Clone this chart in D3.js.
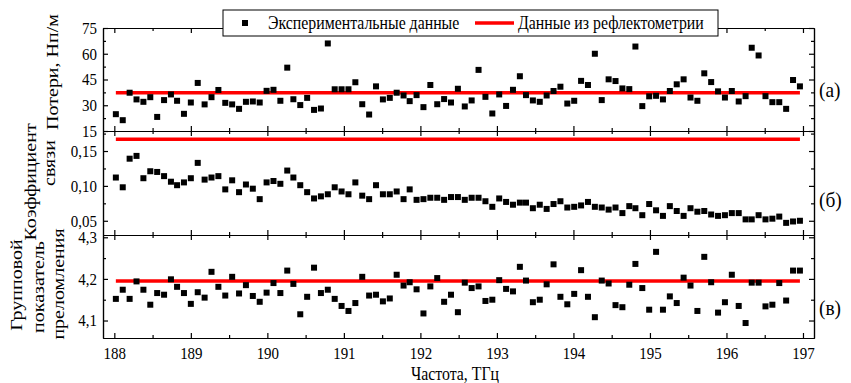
<!DOCTYPE html>
<html>
<head>
<meta charset="utf-8">
<script src="https://cdn.jsdelivr.net/npm/d3@7"></script>
<style>
  body { margin: 0; background: #fff; }
  text { font-family: "Liberation Serif", "Times New Roman", serif; fill: #000; }
</style>
</head>
<body>
<svg id="chart" width="851" height="383"></svg>
<script>
// measured frequencies, THz
const freq = [
  188.02, 188.11, 188.20, 188.29, 188.38, 188.47, 188.56, 188.65, 188.74, 188.82,
  188.91, 189.00, 189.09, 189.18, 189.27, 189.36, 189.45, 189.54, 189.63, 189.72,
  189.81, 189.90, 189.99, 190.08, 190.17, 190.26, 190.34, 190.43, 190.52, 190.61,
  190.70, 190.79, 190.88, 190.97, 191.06, 191.15, 191.24, 191.33, 191.42, 191.51,
  191.60, 191.69, 191.78, 191.86, 191.95, 192.04, 192.13, 192.22, 192.31, 192.40,
  192.49, 192.58, 192.67, 192.76, 192.85, 192.94, 193.03, 193.12, 193.21, 193.30,
  193.38, 193.47, 193.56, 193.65, 193.74, 193.83, 193.92, 194.01, 194.10, 194.19,
  194.28, 194.37, 194.46, 194.55, 194.64, 194.73, 194.81, 194.90, 194.99, 195.08,
  195.17, 195.26, 195.35, 195.44, 195.53, 195.62, 195.71, 195.80, 195.89, 195.98,
  196.07, 196.16, 196.25, 196.33, 196.42, 196.51, 196.60, 196.69, 196.78, 196.87,
  196.96
];

// (а) losses, Np/m
const losses = [
  24.8, 21.3, 37.3, 33.4, 32.0, 34.7, 23.2, 33.0, 36.3, 32.6,
  25.0, 31.6, 43.0, 30.5, 34.7, 38.9, 31.4, 30.5, 27.9, 32.0,
  32.2, 31.6, 38.4, 39.0, 32.6, 51.9, 33.5, 30.1, 34.3, 27.3,
  28.1, 66.0, 39.3, 39.3, 39.3, 43.4, 30.6, 24.6, 41.0, 33.4,
  34.3, 37.3, 35.7, 32.4, 35.9, 28.9, 41.8, 30.6, 33.6, 31.6,
  39.6, 29.3, 32.8, 50.6, 34.9, 25.2, 36.3, 29.6, 39.0, 46.9,
  35.9, 32.8, 32.0, 35.7, 38.3, 40.8, 31.0, 32.6, 44.2, 41.8,
  60.0, 33.0, 45.1, 44.1, 39.8, 39.4, 64.2, 29.5, 35.2, 35.5,
  33.4, 38.3, 42.2, 45.1, 34.5, 32.6, 48.6, 43.5, 38.1, 34.5,
  38.3, 32.2, 35.3, 63.5, 59.0, 35.3, 31.8, 31.8, 27.9, 44.7,
  41.0
];

// (б) coupling coefficient
const coupling = [
  0.112, 0.098, 0.139, 0.143, 0.111, 0.121, 0.120, 0.114, 0.106, 0.101,
  0.105, 0.111, 0.133, 0.109, 0.112, 0.114, 0.095, 0.108, 0.091, 0.102,
  0.096, 0.081, 0.105, 0.107, 0.103, 0.122, 0.112, 0.101, 0.091, 0.082,
  0.085, 0.088, 0.098, 0.092, 0.088, 0.105, 0.086, 0.081, 0.101, 0.088,
  0.088, 0.092, 0.081, 0.095, 0.080, 0.081, 0.083, 0.083, 0.080, 0.084,
  0.084, 0.080, 0.083, 0.083, 0.078, 0.070, 0.082, 0.077, 0.073, 0.076,
  0.076, 0.068, 0.073, 0.067, 0.074, 0.078, 0.069, 0.070, 0.072, 0.077,
  0.070, 0.069, 0.066, 0.069, 0.061, 0.071, 0.068, 0.058, 0.074, 0.065,
  0.057, 0.071, 0.064, 0.057, 0.068, 0.063, 0.064, 0.059, 0.057, 0.058,
  0.061, 0.061, 0.052, 0.052, 0.058, 0.052, 0.053, 0.056, 0.047, 0.049,
  0.050
];

// (в) group index
const groupIndex = [
  4.152, 4.174, 4.152, 4.194, 4.174, 4.138, 4.166, 4.162, 4.199, 4.181,
  4.166, 4.140, 4.168, 4.155, 4.217, 4.181, 4.160, 4.205, 4.165, 4.185,
  4.159, 4.145, 4.167, 4.190, 4.166, 4.220, 4.188, 4.115, 4.157, 4.227,
  4.166, 4.174, 4.152, 4.135, 4.123, 4.142, 4.205, 4.160, 4.162, 4.146,
  4.153, 4.210, 4.184, 4.192, 4.175, 4.117, 4.182, 4.202, 4.145, 4.162,
  4.120, 4.191, 4.178, 4.182, 4.147, 4.150, 4.197, 4.176, 4.170, 4.229,
  4.196, 4.144, 4.150, 4.187, 4.235, 4.157, 4.139, 4.164, 4.221, 4.157,
  4.108, 4.196, 4.189, 4.137, 4.132, 4.186, 4.236, 4.178, 4.126, 4.265,
  4.126, 4.158, 4.142, 4.203, 4.184, 4.123, 4.253, 4.192, 4.119, 4.144,
  4.210, 4.135, 4.094, 4.191, 4.191, 4.134, 4.138, 4.190, 4.148, 4.220,
  4.220
];

// reflectometry levels
const lossRef = 37.3;
const couplingRef = 0.1667;
const indexRef = 4.195;

const xTicks = [188, 189, 190, 191, 192, 193, 194, 195, 196, 197];
const xMinor = [188.5, 189.5, 190.5, 191.5, 192.5, 193.5, 194.5, 195.5, 196.5];
const lossTicks = [15, 30, 45, 60, 75];
const lossMinor = [22.5, 37.5, 52.5, 67.5];
const couplingTicks = [0.05, 0.10, 0.15];
const couplingMinor = [0.075, 0.125, 0.175];
const indexTicks = [4.1, 4.2, 4.3];
const indexMinor = [4.15, 4.25];

const legendLabels = ["Экспериментальные данные", "Данные из рефлектометрии"];
const panelTags = ["(а)", "(б)", "(в)"];

const SX = 0.88; // the source figure is a bit squeezed horizontally
const LEFT = 103, RIGHT = 814;

const svg = d3.select("#chart");
const x = d3.scaleLinear().domain([187.852, 197.144]).range([LEFT, RIGHT]);

const comma = f => v => d3.format(f)(v).replace(".", ",");

const panels = [
  { vals: losses, ref: lossRef, y: d3.scaleLinear().domain([15, 75]).range([131, 28]),
    ticks: lossTicks, minor: lossMinor, fmt: d3.format("d"), tag: panelTags[0], tagY: 97 },
  { vals: coupling, ref: couplingRef, y: d3.scaleLinear().domain([0.0296, 0.1787]).range([235, 131]),
    ticks: couplingTicks, minor: couplingMinor, fmt: comma(".2f"), tag: panelTags[1], tagY: 207 },
  { vals: groupIndex, ref: indexRef, y: d3.scaleLinear().domain([4.058, 4.3055]).range([338, 235]),
    ticks: indexTicks, minor: indexMinor, fmt: comma(".1f"), tag: panelTags[2], tagY: 315 }
];

function styleAxis(g) {
  g.attr("font-size", null).attr("font-family", null);
  g.selectAll("path, line").attr("stroke", "#000").attr("stroke-width", 1.2);
  g.selectAll("text")
    .style("font-size", "17px")
    .attr("transform", `scale(${SX},1)`);
}

panels.forEach((p, i) => {
  const [yBot, yTop] = p.y.range();
  const g = svg.append("g");
  const add = (axis, tx, ty) =>
    g.append("g").attr("transform", `translate(${tx},${ty})`).call(axis).call(styleAxis);

  // minor ticks, all four sides, pointing inward
  add(d3.axisLeft(p.y).tickValues(p.minor).tickSize(-3).tickSizeOuter(0).tickFormat(""), LEFT, 0);
  add(d3.axisRight(p.y).tickValues(p.minor).tickSize(-3).tickSizeOuter(0).tickFormat(""), RIGHT, 0);
  add(d3.axisBottom(x).tickValues(xMinor).tickSize(-3).tickSizeOuter(0).tickFormat(""), 0, yBot);
  add(d3.axisTop(x).tickValues(xMinor).tickSize(-3).tickSizeOuter(0).tickFormat(""), 0, yTop);

  // major ticks
  add(d3.axisLeft(p.y).tickValues(p.ticks).tickSize(-5).tickSizeOuter(0).tickPadding(7).tickFormat(p.fmt), LEFT, 0);
  add(d3.axisRight(p.y).tickValues(p.ticks).tickSize(-5).tickSizeOuter(0).tickFormat(""), RIGHT, 0);
  add(d3.axisBottom(x).tickValues(xTicks).tickSize(-5).tickSizeOuter(0).tickPadding(9)
        .tickFormat(i === 2 ? d3.format("d") : ""), 0, yBot);
  add(d3.axisTop(x).tickValues(xTicks).tickSize(-5).tickSizeOuter(0).tickFormat(""), 0, yTop);

  // reflectometry line
  g.append("line")
    .attr("x1", x(freq[0])).attr("x2", x(freq[freq.length - 1]))
    .attr("y1", p.y(p.ref)).attr("y2", p.y(p.ref))
    .attr("stroke", "#f00").attr("stroke-width", 3.5);

  // experimental points
  g.selectAll("rect.pt")
    .data(p.vals)
    .join("rect")
    .attr("class", "pt")
    .attr("x", (d, k) => x(freq[k]) - 3)
    .attr("y", d => p.y(d) - 3)
    .attr("width", 6).attr("height", 6)
    .attr("fill", "#000");

  // panel tag
  g.append("text")
    .attr("transform", `translate(819,${p.tagY}) scale(${SX},1)`)
    .style("font-size", "22px")
    .text(p.tag);
});

// axis titles
function label(txt, tx, ty, size, rot) {
  svg.append("text")
    .attr("transform", `translate(${tx},${ty}) scale(${SX},1)` + (rot ? " rotate(-90)" : ""))
    .attr("text-anchor", "middle")
    .style("font-size", size + "px")
    .text(txt);
}
label("Частота, ТГц", 455, 380, 18, false);
label("Потери, Нп/м", 58, 72, 20, true);
label("Коэффициент", 36, 182, 20, true);
label("связи", 55, 163, 20, true);
label("Групповой", 22, 285, 20, true);
label("показатель", 44, 287, 20, true);
label("преломления", 64, 284, 20, true);

// legend
const lg = svg.append("g");
lg.append("rect")
  .attr("x", 223).attr("y", 10).attr("width", 495).attr("height", 26)
  .attr("fill", "#fff").attr("stroke", "#000").attr("stroke-width", 1);
lg.append("rect").attr("x", 242).attr("y", 20).attr("width", 6).attr("height", 6).attr("fill", "#000");
lg.append("text")
  .attr("transform", `translate(268,29) scale(${SX},1)`)
  .style("font-size", "18px")
  .text(legendLabels[0]);
lg.append("line")
  .attr("x1", 475).attr("x2", 514).attr("y1", 23).attr("y2", 23)
  .attr("stroke", "#f00").attr("stroke-width", 3.5);
lg.append("text")
  .attr("transform", `translate(518,29) scale(${SX},1)`)
  .style("font-size", "18px")
  .text(legendLabels[1]);
</script>
</body>
</html>
